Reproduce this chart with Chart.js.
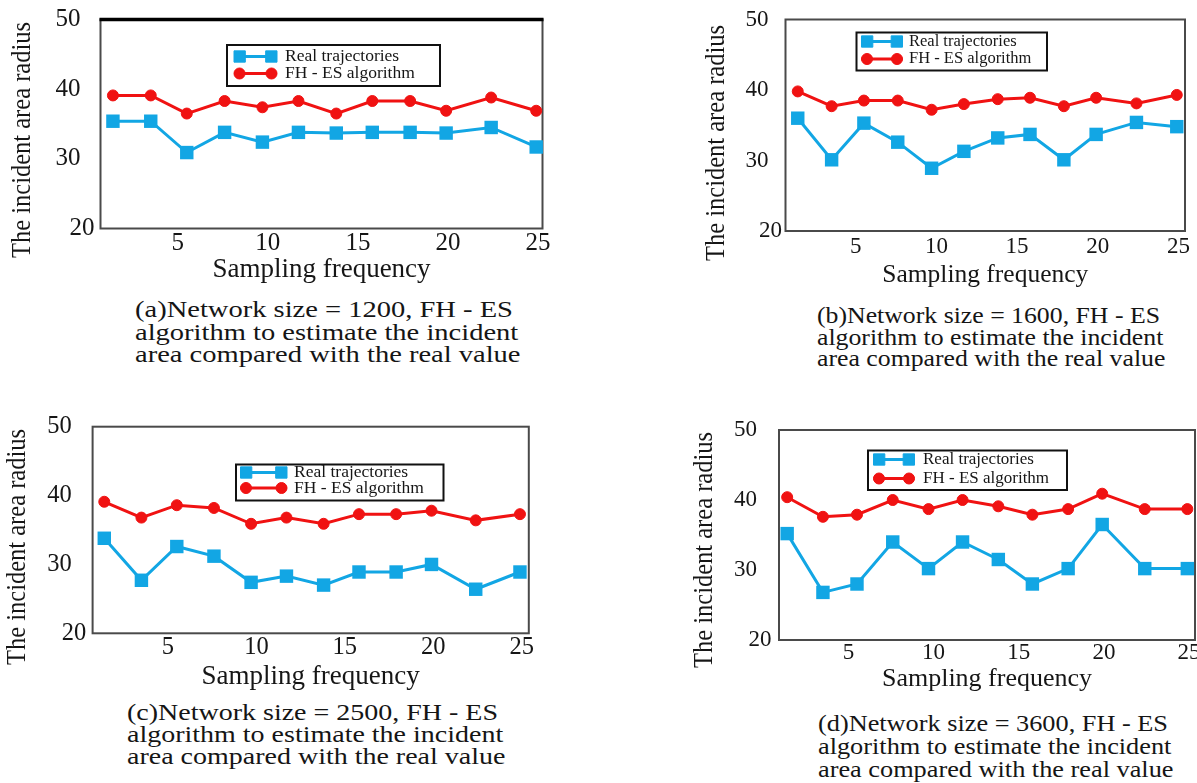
<!DOCTYPE html>
<html>
<head>
<meta charset="utf-8">
<script src="https://cdn.jsdelivr.net/npm/chart.js@4.4.1/dist/chart.umd.min.js"></script>
<style>
html,body{margin:0;padding:0;background:#fff;width:1197px;height:783px;overflow:hidden;}
body{position:relative;font-family:"Liberation Serif","Times New Roman",serif;}
canvas{position:absolute;}
.cap{position:absolute;white-space:nowrap;color:#151515;font-family:"Liberation Serif","Times New Roman",serif;font-size:22.5px;}
.cap .inner{display:inline-block;transform-origin:0 0;}
.cap .inner div{white-space:nowrap;}
</style>
</head>
<body>
<canvas id="ca"></canvas>
<canvas id="cb"></canvas>
<canvas id="cc"></canvas>
<canvas id="cd"></canvas>

<div class="cap" id="capA"><div class="inner">
<div>(a)Network size = 1200, FH - ES</div>
<div>algorithm to estimate the incident</div>
<div>area compared with the real value</div>
</div></div>
<div class="cap" id="capB"><div class="inner">
<div>(b)Network size = 1600, FH - ES</div>
<div>algorithm to estimate the incident</div>
<div>area compared with the real value</div>
</div></div>
<div class="cap" id="capC"><div class="inner">
<div>(c)Network size = 2500, FH - ES</div>
<div>algorithm to estimate the incident</div>
<div>area compared with the real value</div>
</div></div>
<div class="cap" id="capD"><div class="inner">
<div>(d)Network size = 3600, FH - ES</div>
<div>algorithm to estimate the incident</div>
<div>area compared with the real value</div>
</div></div>

<script>
// ---- data ----
const samplingFrequency = [1.4, 3.5, 5.5, 7.6, 9.7, 11.7, 13.8, 15.8, 17.9, 19.9, 22.4, 24.9];
const xTickValues = [5, 10, 15, 20, 25];
const yTickValues = [20, 30, 40, 50];
const seriesNames = ['Real trajectories', 'FH - ES algorithm'];

const realA = [35.4, 35.4, 30.9, 33.8, 32.4, 33.8, 33.7, 33.8, 33.8, 33.7, 34.5, 31.7];
const fhesA = [39.1, 39.1, 36.5, 38.3, 37.4, 38.3, 36.5, 38.3, 38.3, 36.9, 38.8, 36.9];

const realB = [36.0, 30.1, 35.3, 32.6, 28.9, 31.3, 33.2, 33.7, 30.1, 33.7, 35.4, 34.8];
const fhesB = [39.8, 37.7, 38.5, 38.5, 37.2, 38.0, 38.7, 38.9, 37.7, 38.9, 38.1, 39.3];

const realC = [33.8, 27.7, 32.6, 31.2, 27.4, 28.3, 27.0, 28.9, 28.9, 30.0, 26.4, 28.9];
const fhesC = [39.1, 36.8, 38.6, 38.2, 35.9, 36.8, 35.9, 37.3, 37.3, 37.8, 36.4, 37.3];

const realD = [35.2, 26.8, 28.0, 34.0, 30.2, 34.0, 31.5, 28.0, 30.2, 36.5, 30.2, 30.2];
const fhesD = [40.4, 37.6, 37.9, 40.0, 38.7, 40.0, 39.1, 37.9, 38.7, 40.9, 38.7, 38.7];

// ---- styles ----
const BLUE = '#12A6E4';
const RED = '#F01212';
const TEXT = '#161616';
const FONT = '"Liberation Serif", "Times New Roman", serif';

const panels = [
  { canvas:'ca', cap:'capA', real:realA, fhes:fhesA, cx:0, cy:0, cw:580,
    box:[100.5, 19.5, 542.5, 228.5], xMin:0.71, xMax:25.25,
    tickFont:25, tickPad:0, yGap:20, yGapLow:6,
    xTitleFont:27, xTitleY:270, yTitle:[23, 140], yTitleFont:24.5, topThick:true,
    legend:{box:[227,45,440,86], rows:[56.5,73.5], sample:[234,277], textX:285, font:17.5},
    capPos:{x:135, y:299, lh:22.5, w:378} },
  { canvas:'cb', cap:'capB', real:realB, fhes:fhesB, cx:640, cy:0, cw:587,
    box:[785.5, 19.5, 1185, 231], xMin:0.64, xMax:25.41,
    tickFont:23, tickPad:2, yGap:17, yGapLow:3.5,
    xTitleFont:25.5, xTitleY:276, yTitle:[717, 143], yTitleFont:24.5, topThick:false,
    legend:{box:[856.5,32.5,1047,70.5], rows:[41.5,59], sample:[861.5,902.5], textX:909, font:16.5},
    capPos:{x:817, y:305, lh:21.7, w:343} },
  { canvas:'cc', cap:'capC', real:realC, fhes:fhesC, cx:0, cy:400, cw:580,
    box:[92.6, 426.7, 528.8, 633.3], xMin:0.74, xMax:25.4,
    tickFont:24.5, tickPad:0, yGap:20.8, yGapLow:6.4,
    xTitleFont:27, xTitleY:677, yTitle:[18, 547], yTitleFont:24.5, topThick:false,
    legend:{box:[236,464.5,443.5,500.5], rows:[472.5,488], sample:[240.5,287], textX:294, font:17.5},
    capPos:{x:127, y:702, lh:22, w:371} },
  { canvas:'cd', cap:'capD', real:realD, fhes:fhesD, cx:640, cy:400, cw:590,
    box:[779, 430, 1195, 640], xMin:0.92, xMax:25.35,
    tickFont:23, tickPad:-1, yGap:22, yGapLow:7.4,
    xTitleFont:26, xTitleY:679, yTitle:[705, 550], yTitleFont:24.5, topThick:false,
    legend:{box:[868,450.5,1067,490], rows:[459.5,478.5], sample:[873.5,914.5], textX:923, font:17},
    capPos:{x:818, y:711.5, lh:23, w:350} }
];

// ---- plugins ----
const framePlugin = {
  id:'frame',
  beforeDatasetsDraw(chart, args, o) {
    const {ctx, chartArea:{left, top, right, bottom}} = chart;
    ctx.save();
    ctx.strokeStyle = '#4a4a4a';
    ctx.lineWidth = 2;
    ctx.strokeRect(left, top, right - left, bottom - top);
    if (o.topThick) {
      ctx.strokeStyle = '#000';
      ctx.lineWidth = 3.5;
      ctx.beginPath(); ctx.moveTo(left - 1, top); ctx.lineTo(right + 1, top); ctx.stroke();
    }
    ctx.restore();
  }
};

const yLabelPlugin = {
  id:'yLabels',
  afterDraw(chart, args, o) {
    const {ctx, chartArea, scales:{y}} = chart;
    ctx.save();
    ctx.font = o.size + 'px ' + FONT;
    ctx.fillStyle = TEXT;
    ctx.textAlign = 'right';
    ctx.textBaseline = 'middle';
    yTickValues.forEach(v => {
      const gap = (v === y.min) ? o.gapLow : o.gap;
      ctx.fillText(String(v), chartArea.left - gap, y.getPixelForValue(v));
    });
    ctx.restore();
  }
};

const yTitlePlugin = {
  id:'yTitle',
  afterDraw(chart, args, o) {
    const ctx = chart.ctx;
    ctx.save();
    ctx.translate(o.x, o.y);
    ctx.rotate(-Math.PI / 2);
    ctx.scale(1, 1.15);
    ctx.font = o.size + 'px ' + FONT;
    ctx.fillStyle = TEXT;
    ctx.textAlign = 'center';
    ctx.textBaseline = 'middle';
    ctx.fillText(o.text, 0, 0);
    ctx.restore();
  }
};

const boxLegendPlugin = {
  id:'boxLegend',
  afterDraw(chart, args, o) {
    const ctx = chart.ctx;
    const [x1, y1, x2, y2] = o.box;
    ctx.save();
    ctx.fillStyle = '#fff';
    ctx.fillRect(x1, y1, x2 - x1, y2 - y1);
    ctx.strokeStyle = '#111';
    ctx.lineWidth = 2;
    ctx.strokeRect(x1, y1, x2 - x1, y2 - y1);
    chart.data.datasets.forEach((ds, i) => {
      const yy = o.rows[i];
      ctx.strokeStyle = ds.borderColor;
      ctx.lineWidth = ds.borderWidth;
      ctx.beginPath();
      ctx.moveTo(o.sample[0], yy);
      ctx.lineTo(o.sample[1], yy);
      ctx.stroke();
      const r = o.markerR[i];
      const style = {pointStyle: ds.pointStyle, radius: r, borderWidth: 1, rotation: 0};
      ctx.fillStyle = ds.backgroundColor;
      ctx.strokeStyle = ds.borderColor;
      ctx.lineWidth = 1;
      const inset = ds.pointStyle === 'rect' ? r * Math.SQRT1_2 : r;
      Chart.helpers.drawPoint(ctx, style, o.sample[0] + inset, yy);
      Chart.helpers.drawPoint(ctx, style, o.sample[1] - inset, yy);
      ctx.fillStyle = TEXT;
      ctx.font = o.font + 'px ' + FONT;
      ctx.textAlign = 'left';
      ctx.textBaseline = 'middle';
      ctx.fillText(ds.label, o.textX, yy);
    });
    ctx.restore();
  }
};

// ---- build charts ----
panels.forEach(p => {
  const cv = document.getElementById(p.canvas);
  const xTitleLH = p.xTitleFont * 1.2;
  const ch = Math.round(p.xTitleY - p.cy + xTitleLH / 2);
  cv.width = p.cw; cv.height = ch;
  cv.style.left = p.cx + 'px'; cv.style.top = p.cy + 'px';
  cv.style.width = p.cw + 'px'; cv.style.height = ch + 'px';
  const [bl, bt, br, bb] = p.box;
  const yWidth = bl - p.cx;
  const xHeight = ch - (bb - p.cy);

  new Chart(cv, {
    type:'line',
    data:{
      datasets:[
        { label: seriesNames[0],
          data: samplingFrequency.map((x, i) => ({x, y: p.real[i]})),
          borderColor: BLUE, backgroundColor: BLUE, borderWidth: 3,
          pointStyle:'rect', pointRadius: 9.5, pointBorderWidth: 0, pointHoverRadius: 9.5,
          tension: 0, clip: false },
        { label: seriesNames[1],
          data: samplingFrequency.map((x, i) => ({x, y: p.fhes[i]})),
          borderColor: RED, backgroundColor: RED, borderWidth: 3,
          pointStyle:'circle', pointRadius: 5.5, pointBorderWidth: 1, pointHoverRadius: 5.5,
          tension: 0, clip: false }
      ]
    },
    options:{
      responsive:false, animation:false, devicePixelRatio:1,
      layout:{ padding:{ left:0, top: bt - p.cy, right: p.cx + p.cw - br, bottom:0 } },
      scales:{
        x:{
          type:'linear', min:p.xMin, max:p.xMax,
          afterBuildTicks: s => { s.ticks = xTickValues.map(v => ({value:v})); },
          afterFit: s => { s.height = xHeight; },
          grid:{display:false, drawTicks:false}, border:{display:false},
          ticks:{ font:{family:FONT, size:p.tickFont}, color:TEXT, padding:p.tickPad,
                  maxRotation:0, minRotation:0, autoSkip:false },
          title:{ display:true, text:'Sampling frequency', color:TEXT,
                  font:{family:FONT, size:p.xTitleFont}, padding:{top:0, bottom:0} }
        },
        y:{
          type:'linear', min:20, max:50,
          afterBuildTicks: s => { s.ticks = yTickValues.map(v => ({value:v})); },
          afterFit: s => { s.width = yWidth; },
          grid:{display:false, drawTicks:false}, border:{display:false},
          ticks:{display:false}
        }
      },
      plugins:{
        legend:{display:false}, tooltip:{enabled:false},
        frame:{topThick:p.topThick},
        yLabels:{size:p.tickFont, gap:p.yGap, gapLow:p.yGapLow},
        yTitle:{x:p.yTitle[0] - p.cx, y:p.yTitle[1] - p.cy, size:p.yTitleFont, text:'The incident area radius'},
        boxLegend:{
          box:[p.legend.box[0]-p.cx, p.legend.box[1]-p.cy, p.legend.box[2]-p.cx, p.legend.box[3]-p.cy],
          rows:p.legend.rows.map(v => v - p.cy),
          sample:p.legend.sample.map(v => v - p.cx),
          textX:p.legend.textX - p.cx, font:p.legend.font, markerR:[8, 5.5]
        }
      }
    },
    plugins:[framePlugin, yLabelPlugin, yTitlePlugin, boxLegendPlugin]
  });

  // caption
  const cap = document.getElementById(p.cap);
  cap.style.left = p.capPos.x + 'px';
  cap.style.top = p.capPos.y + 'px';
  cap.style.lineHeight = p.capPos.lh + 'px';
  const inner = cap.querySelector('.inner');
  const first = inner.querySelector('div');
  const span = document.createElement('span');
  span.textContent = first.textContent;
  span.style.whiteSpace = 'nowrap';
  first.textContent = '';
  first.appendChild(span);
  const natural = span.getBoundingClientRect().width || 1;
  inner.style.transform = 'scaleX(' + (p.capPos.w / natural).toFixed(4) + ')';
});
</script>
</body>
</html>
